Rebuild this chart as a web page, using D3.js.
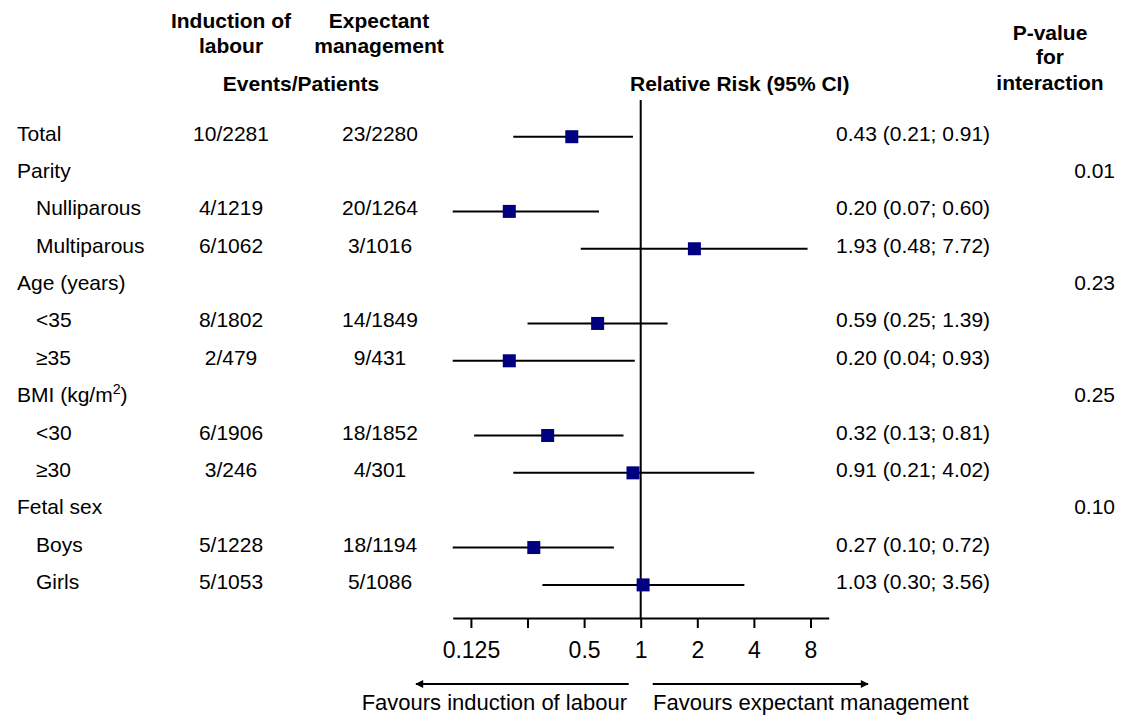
<!DOCTYPE html>
<html>
<head>
<meta charset="utf-8">
<script src="https://cdn.jsdelivr.net/npm/d3@7"></script>
<style>
  body { margin: 0; background: #fff; }
  svg { display: block; font-family: "Liberation Sans", Arial, sans-serif; }
</style>
</head>
<body>
<div id="chart"></div>
<script>
// rows of the forest plot, top to bottom
const labels = ["Total", "Parity", "Nulliparous", "Multiparous", "Age (years)", "<35", "≥35",
                "BMI (kg/m2)", "<30", "≥30", "Fetal sex", "Boys", "Girls"];
const isSub = [false, false, true, true, false, true, true, false, true, true, false, true, true];
const induction = ["10/2281", "", "4/1219", "6/1062", "", "8/1802", "2/479", "", "6/1906", "3/246", "", "5/1228", "5/1053"];
const expectant = ["23/2280", "", "20/1264", "3/1016", "", "14/1849", "9/431", "", "18/1852", "4/301", "", "18/1194", "5/1086"];
const rr = [0.43, null, 0.20, 1.93, null, 0.59, 0.20, null, 0.32, 0.91, null, 0.27, 1.03];
const lo = [0.21, null, 0.07, 0.48, null, 0.25, 0.04, null, 0.13, 0.21, null, 0.10, 0.30];
const hi = [0.91, null, 0.60, 7.72, null, 1.39, 0.93, null, 0.81, 4.02, null, 0.72, 3.56];
const pInteraction = ["", "0.01", "", "", "0.23", "", "", "0.25", "", "", "0.10", "", ""];
const tickValues = [0.125, 0.25, 0.5, 1, 2, 4, 8];
const tickLabels = ["0.125", "", "0.5", "1", "2", "4", "8"];

const width = 1135, height = 717;
const fs = 21;
const navy = "#000080";

const svg = d3.create("svg")
    .attr("width", width)
    .attr("height", height)
    .attr("viewBox", [0, 0, width, height]);

const x = d3.scaleLog()
    .domain([0.1, 10])
    .range([452.7, 828.7])
    .clamp(true);

const y = d3.scalePoint()
    .domain(d3.range(labels.length))
    .range([136.7, 584.9]);

const axisY = 618;

// headers
const head = svg.append("g")
    .attr("font-weight", "bold")
    .attr("font-size", fs)
    .attr("fill", "#000")
    .attr("text-anchor", "middle");

head.append("text").attr("x", 231).attr("y", 28).text("Induction of");
head.append("text").attr("x", 231).attr("y", 53).text("labour");
head.append("text").attr("x", 379).attr("y", 28).text("Expectant");
head.append("text").attr("x", 379).attr("y", 53).text("management");
head.append("text").attr("x", 301).attr("y", 91).text("Events/Patients");
head.append("text").attr("x", 630).attr("y", 91).attr("text-anchor", "start").text("Relative Risk (95% CI)");
head.append("text").attr("x", 1050).attr("y", 40).text("P-value");
head.append("text").attr("x", 1050).attr("y", 64).text("for");
head.append("text").attr("x", 1050).attr("y", 90).text("interaction");

// table text
const rows = svg.append("g")
    .attr("font-size", fs)
    .attr("fill", "#000")
    .selectAll("g")
    .data(labels.map((l, i) => i))
    .join("g")
    .attr("transform", i => `translate(0,${y(i) + 4})`);

rows.append("text")
    .attr("x", i => isSub[i] ? 36 : 17)
    .each(function(i) {
        const t = d3.select(this);
        if (labels[i].startsWith("BMI")) {
            t.append("tspan").text("BMI (kg/m");
            t.append("tspan").attr("font-size", fs * 0.68).attr("dy", -8).text("2");
            t.append("tspan").attr("dy", 8).text(")");
        } else {
            t.text(labels[i]);
        }
    });

rows.append("text")
    .attr("x", 231)
    .attr("text-anchor", "middle")
    .text(i => induction[i]);

rows.append("text")
    .attr("x", 380)
    .attr("text-anchor", "middle")
    .text(i => expectant[i]);

rows.filter(i => rr[i] != null).append("text")
    .attr("x", 836)
    .text(i => `${rr[i].toFixed(2)} (${lo[i].toFixed(2)}; ${hi[i].toFixed(2)})`);

rows.append("text")
    .attr("x", 1115)
    .attr("text-anchor", "end")
    .text(i => pInteraction[i]);

// reference line at RR = 1
svg.append("line")
    .attr("x1", x(1)).attr("x2", x(1))
    .attr("y1", 100).attr("y2", axisY)
    .attr("stroke", "#000")
    .attr("stroke-width", 2);

// confidence intervals and point estimates
const est = rr.map((r, i) => i).filter(i => rr[i] != null);

svg.append("g")
    .selectAll("line")
    .data(est)
    .join("line")
    .attr("x1", i => x(lo[i]))
    .attr("x2", i => x(hi[i]))
    .attr("y1", i => y(i))
    .attr("y2", i => y(i))
    .attr("stroke", "#000")
    .attr("stroke-width", 2);

const sq = 13;
svg.append("g")
    .selectAll("rect")
    .data(est)
    .join("rect")
    .attr("x", i => x(rr[i]) - sq / 2)
    .attr("y", i => y(i) - sq / 2)
    .attr("width", sq)
    .attr("height", sq)
    .attr("fill", navy);

// x axis
const axis = svg.append("g")
    .attr("transform", `translate(0,${axisY})`)
    .call(d3.axisBottom(x)
        .tickValues(tickValues)
        .tickFormat((d, i) => tickLabels[i])
        .tickSize(10)
        .tickSizeOuter(0)
        .tickPadding(14));

axis.select(".domain").attr("stroke-width", 2);
axis.selectAll(".tick line").attr("stroke-width", 2);
axis.selectAll(".tick text")
    .attr("font-size", 23)
    .attr("font-family", "Liberation Sans, Arial, sans-serif");

// favours arrows
const defs = svg.append("defs");
defs.append("marker")
    .attr("id", "arrow")
    .attr("viewBox", "0 0 10 10")
    .attr("refX", 9).attr("refY", 5)
    .attr("markerWidth", 10).attr("markerHeight", 8)
    .attr("markerUnits", "userSpaceOnUse")
    .attr("orient", "auto")
    .append("path")
    .attr("d", "M0,0 L10,5 L0,10 Z")
    .attr("fill", "#000");

const arrowY = 684;
svg.append("line")
    .attr("x1", x(1) - 12).attr("x2", 416)
    .attr("y1", arrowY).attr("y2", arrowY)
    .attr("stroke", "#000").attr("stroke-width", 2)
    .attr("marker-end", "url(#arrow)");
svg.append("line")
    .attr("x1", x(1) + 12).attr("x2", 868)
    .attr("y1", arrowY).attr("y2", arrowY)
    .attr("stroke", "#000").attr("stroke-width", 2)
    .attr("marker-end", "url(#arrow)");

svg.append("text")
    .attr("x", 627).attr("y", 710)
    .attr("text-anchor", "end")
    .attr("font-size", 22)
    .text("Favours induction of labour");
svg.append("text")
    .attr("x", 653).attr("y", 710)
    .attr("font-size", 22)
    .text("Favours expectant management");

document.getElementById("chart").append(svg.node());
</script>
</body>
</html>
